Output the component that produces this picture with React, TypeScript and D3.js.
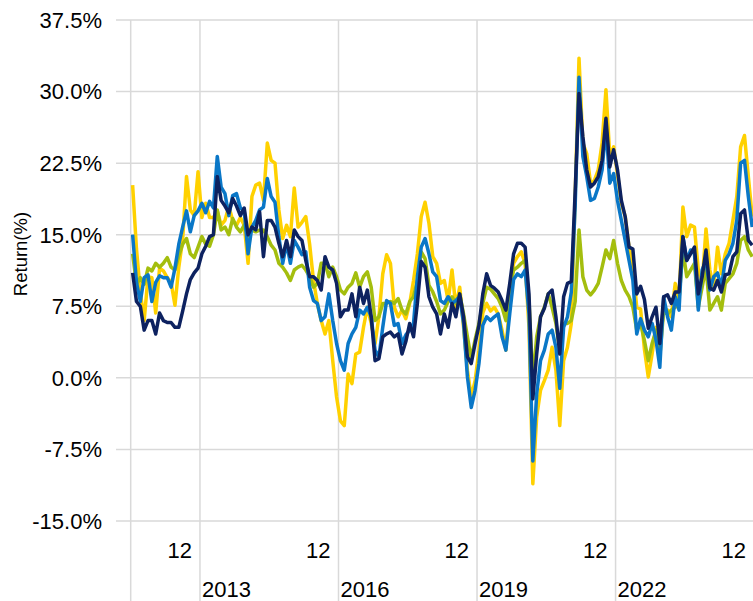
import React from "react";
import * as d3 from "d3";

const startMonth = new Date(2011, 6, 1);
const endMonth = new Date(2025, 0, 1);
const months: Date[] = d3.timeMonth.range(startMonth, endMonth);

const yTicks = [-15, -7.5, 0, 7.5, 15, 22.5, 30, 37.5];
const yearLabels = [2013, 2016, 2019, 2022];
const decLabelYears = [2012, 2015, 2018, 2021, 2024];

const seriesYellow = [
  20.2, 13.5, 9.0, 6.0, 10.6, 10.5, 6.8, 11.5, 11.2, 10.5, 10.0, 7.6, 11.6, 14.5, 21.1, 17.6, 17.0, 21.6, 16.8, 18.3,
  16.8, 16.8, 17.5, 16.0, 16.5, 18.0, 16.5, 16.0, 16.8, 16.0, 12.0, 19.0, 20.2, 20.4, 18.6, 24.6, 22.8, 22.5, 17.6, 14.6,
  16.0, 14.8, 19.9, 15.8, 16.3, 16.9, 14.0, 10.2, 7.8, 6.0, 4.6, 6.0, 1.8, -2.0, -4.5, -5.0, 0.4, -0.6, 2.5, 2.7,
  5.3, 7.4, 5.7, 3.6, 6.4, 10.9, 12.9, 12.0, 7.4, 6.4, 7.1, 6.2, 7.8, 10.2, 13.0, 16.9, 18.4, 16.2, 12.7, 12.0,
  9.9, 10.2, 8.1, 11.3, 7.4, 9.5, 5.3, 0.8, -2.0, -0.3, 2.9, 6.8, 7.8, 7.0, 7.4, 6.7, 5.0, 2.9, 8.0, 12.0,
  12.7, 13.2, 12.0, 5.3, -11.1, -4.1, -1.3, -0.3, 0.8, 3.2, 0.8, -5.0, 1.8, 3.2, 5.7, 19.0, 33.5, 24.6, 23.5, 20.4,
  20.7, 21.8, 24.6, 30.2, 23.2, 24.2, 21.4, 18.3, 16.9, 13.7, 11.6, 7.4, 7.2, 3.0, 0.1, 2.5, 5.3, 3.6, 7.1, 7.1,
  6.4, 9.9, 8.1, 17.9, 14.8, 16.0, 15.8, 11.3, 9.9, 15.6, 11.3, 9.5, 13.7, 10.9, 13.0, 14.1, 16.5, 19.0, 24.2, 25.4,
  21.1, 16.9,
];

const seriesGreen = [
  13.0, 9.8, 10.5, 9.8, 11.5, 11.2, 12.0, 11.6, 12.0, 12.6, 11.6, 11.3, 12.8, 14.0, 14.6, 13.0, 12.6, 13.7, 14.8, 14.0,
  13.8, 15.0, 17.6, 15.5, 15.8, 15.0, 16.7, 15.8, 15.3, 16.0, 15.0, 15.5, 15.3, 15.5, 15.5, 14.8, 13.9, 13.4, 12.0, 11.6,
  11.0, 10.2, 11.3, 11.6, 11.8, 11.3, 10.6, 9.5, 9.9, 12.0, 12.0, 10.6, 11.6, 10.6, 9.2, 8.8, 9.5, 9.9, 11.0, 9.5,
  10.6, 11.1, 9.5, 6.0, 6.4, 7.8, 7.8, 8.0, 7.8, 8.3, 7.1, 6.7, 8.0, 8.5, 10.2, 13.2, 12.5, 9.7, 9.0, 8.0,
  6.7, 7.1, 8.0, 8.5, 7.8, 8.8, 6.7, 4.3, 2.0, 4.0, 5.7, 7.8, 9.5, 9.3, 8.8, 8.3, 7.4, 6.0, 9.5, 11.3,
  11.6, 12.0, 12.3, 8.1, -0.3, 4.3, 6.4, 7.4, 8.8, 7.4, 5.7, 2.9, 5.7, 5.7, 6.0, 8.0, 15.5, 10.6, 9.2, 8.7,
  9.2, 9.9, 11.6, 13.4, 12.5, 14.4, 12.0, 10.2, 9.2, 8.5, 7.4, 5.0, 5.7, 3.9, 1.8, 3.6, 5.0, 2.2, 7.1, 6.7,
  7.1, 7.4, 8.3, 13.4, 10.6, 11.3, 12.0, 7.4, 9.5, 11.6, 7.1, 7.8, 8.5, 7.1, 9.9, 10.4, 10.9, 12.0, 14.4, 14.8,
  13.4, 12.7,
];

const seriesBlue = [
  15.0, 10.0, 8.0, 10.5, 10.8, 8.0, 10.0, 10.7, 10.5, 10.5, 9.5, 11.5, 14.0, 15.8, 17.5, 15.3, 17.0, 17.5, 18.3, 17.3,
  18.5, 17.8, 23.2, 20.0, 19.3, 17.0, 19.1, 19.3, 17.8, 17.5, 13.0, 15.8, 16.5, 17.6, 17.9, 20.9, 19.0, 18.4, 14.8, 12.0,
  14.1, 12.0, 14.4, 13.7, 12.9, 13.2, 9.5, 8.1, 7.8, 6.0, 6.4, 8.8, 6.0, 3.6, 1.8, 0.8, 3.6, 4.6, 5.3, 7.1,
  6.7, 7.4, 6.4, 2.9, 2.2, 5.3, 8.1, 7.8, 5.5, 5.7, 3.6, 4.5, 5.0, 5.7, 10.6, 13.7, 14.6, 13.0, 11.1, 10.6,
  8.1, 7.8, 8.5, 7.8, 8.1, 8.5, 5.7, 0.1, -3.1, -1.3, 1.5, 5.5, 6.4, 6.0, 6.4, 6.7, 4.3, 2.9, 6.7, 10.3,
  10.9, 10.6, 11.3, 6.7, -8.7, -1.7, 1.8, 2.9, 4.6, 5.0, 3.2, -1.1, 5.3, 6.4, 9.0, 18.0, 31.5, 23.2, 21.1, 18.6,
  18.8, 20.0, 21.8, 26.3, 20.4, 21.4, 18.6, 16.5, 14.4, 12.3, 10.2, 4.6, 6.2, 5.0, 4.3, 5.7, 4.0, 1.1, 8.5, 6.4,
  5.0, 8.5, 7.1, 14.8, 12.3, 13.4, 13.0, 7.1, 11.3, 12.3, 9.2, 10.6, 11.0, 9.5, 12.3, 13.0, 14.1, 16.5, 22.5, 22.8,
  19.0, 15.8,
];

const seriesNavy = [
  11.0, 8.0, 7.5, 5.0, 6.0, 6.0, 4.6, 6.8, 6.0, 5.8, 5.8, 5.3, 5.3, 7.0, 8.8, 10.3, 11.0, 11.5, 13.0, 13.8,
  14.8, 15.0, 21.1, 18.6, 18.0, 17.3, 18.8, 18.0, 17.0, 17.8, 15.0, 15.8, 15.5, 17.4, 12.7, 16.5, 16.5, 15.8, 14.1, 12.7,
  14.4, 12.7, 15.5, 14.8, 14.4, 12.3, 10.6, 10.6, 10.2, 9.2, 12.7, 11.6, 11.3, 9.9, 6.4, 7.1, 7.1, 8.8, 6.4, 9.5,
  7.8, 9.2, 6.4, 1.8, 2.0, 4.3, 4.6, 4.8, 4.3, 4.6, 2.5, 3.8, 5.7, 4.3, 7.8, 12.2, 11.6, 8.5, 7.4, 6.7,
  4.6, 6.7, 5.3, 7.8, 6.4, 8.8, 6.4, 2.2, 1.5, 3.6, 5.5, 8.8, 10.9, 9.7, 9.4, 9.0, 8.1, 7.1, 9.9, 13.0,
  14.1, 14.1, 13.7, 8.8, -2.2, 2.5, 6.4, 7.3, 8.8, 9.2, 6.4, 2.5, 8.5, 9.9, 10.1, 19.5, 29.8, 25.3, 21.8, 20.0,
  20.4, 21.1, 22.8, 27.2, 22.1, 23.9, 21.8, 18.6, 16.9, 13.7, 13.5, 8.8, 9.6, 8.2, 5.2, 6.4, 7.4, 3.6, 8.5, 8.7,
  7.8, 9.0, 9.0, 14.8, 12.3, 13.0, 13.7, 8.8, 10.6, 13.4, 9.4, 9.2, 10.2, 9.0, 10.8, 10.9, 12.7, 13.2, 17.2, 17.6,
  14.4, 13.9,
];

const seriesList = [
  { name: "Yellow", values: seriesYellow, color: "#FFD100" },
  { name: "Green", values: seriesGreen, color: "#A4BE0E" },
  { name: "Blue", values: seriesBlue, color: "#0A77C7" },
  { name: "Navy", values: seriesNavy, color: "#0D2260" },
];

const W = 753;
const H = 601;
const FONT = "'Liberation Sans', Arial, sans-serif";

export default function App() {
  const x = d3.scaleBand<Date>().domain(months).range([130.7, 754.1]).paddingInner(0).paddingOuter(0);
  const bw = x.bandwidth();
  const y = d3.scaleLinear().domain([-15, 37.5]).range([521, 20]);
  const cx = (d: Date) => (x(d) as number) + bw / 2;

  const line = d3
    .line<number>()
    .x((_, i) => cx(months[i]))
    .y((v) => y(v))
    .curve(d3.curveLinear);

  const janX = (yr: number) => x(new Date(yr, 0, 1)) as number;
  const decEnd = (yr: number) => (x(new Date(yr, 11, 1)) as number) + bw;

  return (
    <svg
      width={W}
      height={H}
      style={{ position: "absolute", left: 0, top: 0, background: "#fff" }}
      fontFamily={FONT}
    >
      <rect x={0} y={0} width={W} height={H} fill="#fff" />
      {yTicks.map((t) => (
        <g key={t}>
          <line x1={116} x2={W} y1={y(t)} y2={y(t)} stroke="#d9d9d9" strokeWidth={1.5} />
          <text x={102} y={y(t) + 7.8} textAnchor="end" fontSize={22} fill="#000">
            {t.toFixed(1) + "%"}
          </text>
        </g>
      ))}
      <line x1={130.7} x2={130.7} y1={20} y2={H} stroke="#d9d9d9" strokeWidth={1.5} />
      {yearLabels.map((yr) => (
        <g key={yr}>
          <line x1={janX(yr)} x2={janX(yr)} y1={20} y2={H} stroke="#d9d9d9" strokeWidth={1.5} />
          <text x={janX(yr) + 2} y={597} fontSize={22} fill="#000">
            {yr}
          </text>
        </g>
      ))}
      {decLabelYears.map((yr) => (
        <text key={yr} x={decEnd(yr) - 8} y={558} textAnchor="end" fontSize={22} fill="#000">
          12
        </text>
      ))}
      <text
        transform={`translate(26.7,254) rotate(-90)`}
        textAnchor="middle"
        fontSize={18.5}
        fill="#000"
      >
        Return(%)
      </text>
      {seriesList.map((s) => (
        <path
          key={s.name}
          d={line(s.values) || ""}
          fill="none"
          stroke={s.color}
          strokeWidth={3.5}
          strokeLinejoin="round"
        />
      ))}
    </svg>
  );
}
